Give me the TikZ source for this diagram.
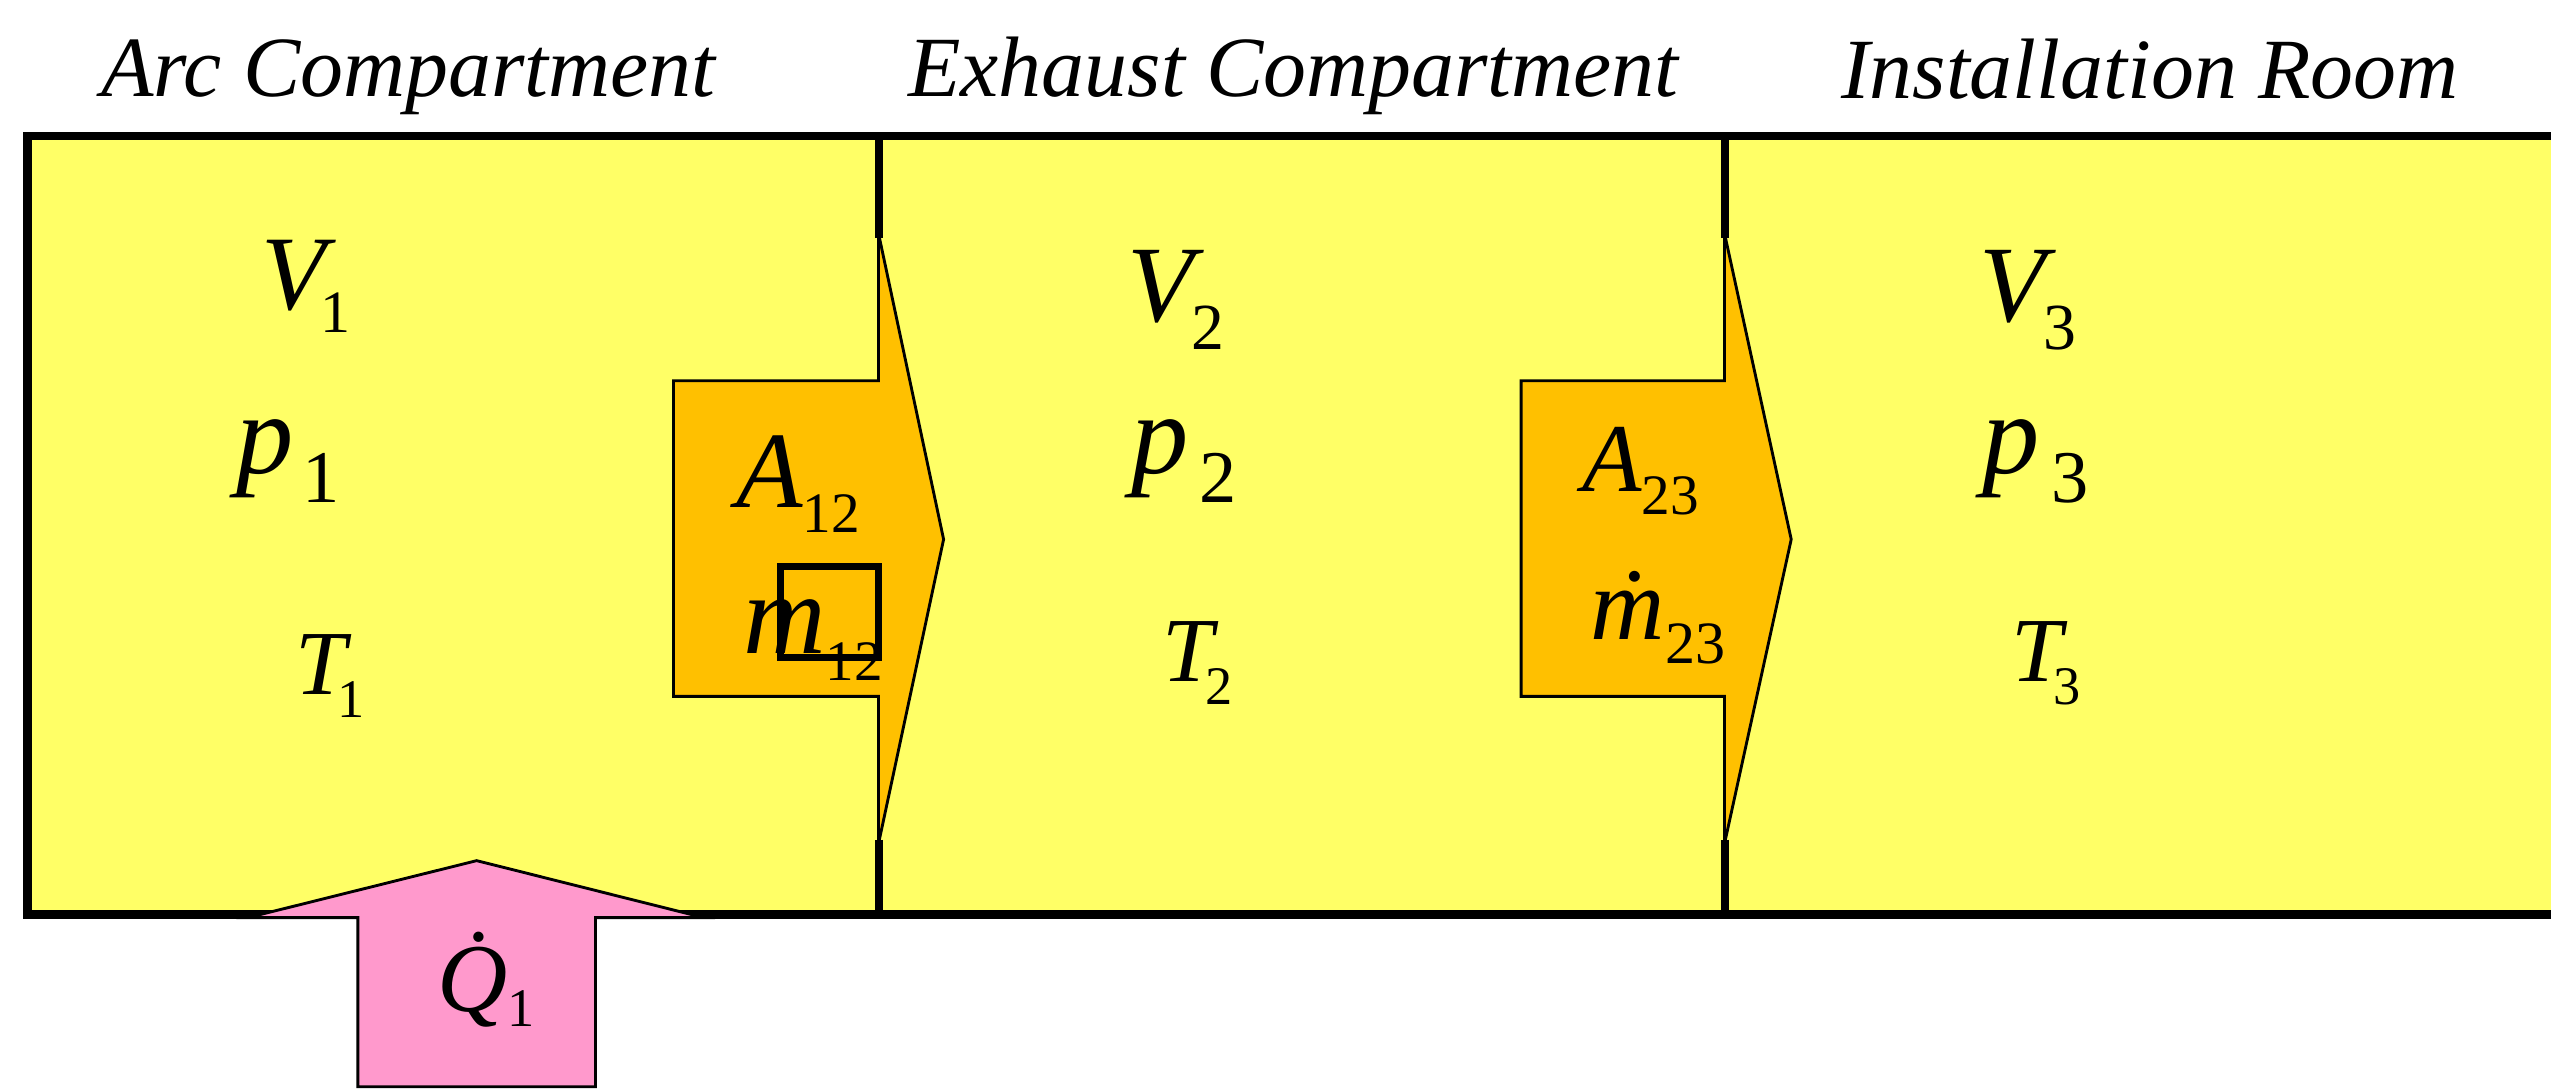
\documentclass[tikz,border=0pt]{standalone}
\usepackage{fontspec}
\setmainfont{Liberation Serif}
\definecolor{roomFill}{HTML}{FFFF66}
\definecolor{flowFill}{HTML}{FFC000}
\definecolor{heatFill}{HTML}{FF99CC}
\newcommand\qfont[1]{\fontsize{#1}{#1}\selectfont\itshape}
\newcommand\lowsub[4][0pt]{\kern#1\raisebox{-#3}{\upshape\fontsize{#2}{#2}\selectfont #4}}
\tikzset{
  wall/.style={draw=black, line width=1.4pt},
  room/.style={fill=roomFill},
  flow/.style={fill=flowFill, draw=black, line width=0.5pt},
  heat/.style={fill=heatFill, draw=black, line width=0.5pt},
  title/.style={font=\qfont{15}, inner sep=0pt, anchor=base},
  qty/.style={inner sep=0pt, anchor=base west},
}
\begin{document}
\begin{tikzpicture}[x=0.01cm, y=-0.01cm]
  \useasboundingbox (0,0) rectangle (1568,669);

  % Titles
  \node[title] (tarc) at (251,59.5) {Arc Compartment};
  \node[title] (texh) at (795,59.5) {Exhaust Compartment};
  \node[title] (tins) at (1321.5,60.5) {Installation Room};

  % Compartments
  \fill[room] (17,83.5) rectangle (1568,562);
  \draw[wall] (540,83.5) -- (540,146) (540,516) -- (540,562);
  \draw[wall] (1060,83.5) -- (1060,146) (1060,516) -- (1060,562);
  \draw[wall, line width=1.5pt] (1568,83.5) -- (17,83.5) -- (17,562) -- (1568,562);

  % Mass flow arrows
  \draw[flow] (414,234) -- (540,234) -- (540,143.5) -- (580,331.5) -- (540,518.5) -- (540,428) -- (414,428) -- cycle;
  \draw[flow] (935,234) -- (1060,234) -- (1060,143.5) -- (1101,331.5) -- (1060,518.5) -- (1060,428) -- (935,428) -- cycle;

  % Heat input
  \draw[heat] (220,668) -- (220,564) -- (152.5,564) -- (293,529) -- (432.5,564) -- (366,564) -- (366,668) -- cycle;

  % Frame round m12
  \draw[line width=1.2pt] (480,348) rectangle (540,404);

  % Arc compartment
  \node[qty, font=\qfont{18.5}] (v1) at (160,190.5) {V\lowsub[-1pt]{10.5}{4pt}{1}};
  \node[qty, font=\qfont{20}] (p1) at (144.5,291) {p\lowsub[1.5pt]{13}{5pt}{1}};
  \node[qty, font=\qfont{16}] (t1) at (181,427) {T\lowsub[-1.5pt]{9.5}{4pt}{1}};

  % Exhaust compartment
  \node[qty, font=\qfont{19}] (v2) at (692.6,197.7) {V\lowsub[-0.5pt]{11.5}{4.8pt}{2}};
  \node[qty, font=\qfont{20}] (p2) at (694.5,291) {p\lowsub[2pt]{13}{5pt}{2}};
  \node[qty, font=\qfont{16}] (t2) at (714,419) {T\lowsub[-1.5pt]{9.5}{4pt}{2}};

  % Installation room
  \node[qty, font=\qfont{19}] (v3) at (1216,197.7) {V\lowsub[-0.5pt]{11.5}{4.8pt}{3}};
  \node[qty, font=\qfont{20}] (p3) at (1218,291) {p\lowsub[2pt]{13}{5pt}{3}};
  \node[qty, font=\qfont{16}] (t3) at (1235.4,419) {T\lowsub[-1.5pt]{9.5}{4pt}{3}};

  % Openings
  \node[qty, font=\qfont{19}] (a12) at (451.8,312) {A\lowsub{10}{4.3pt}{12}};
  \node[qty, font=\qfont{20}] (m12) at (456,401.5) {m\lowsub{10}{4.7pt}{12}};
  \node[qty, font=\qfont{17}] (a23) at (972,302.4) {A\lowsub{10}{4pt}{23}};
  \node[qty, font=\qfont{18}] (m23) at (977,393) {\.{m}\lowsub{10.5}{4.3pt}{23}};

  % Heat
  \node[qty, font=\qfont{17}] (q1) at (268,622) {\.{Q}\lowsub{9.5}{2.5pt}{1}};
\end{tikzpicture}
\end{document}
